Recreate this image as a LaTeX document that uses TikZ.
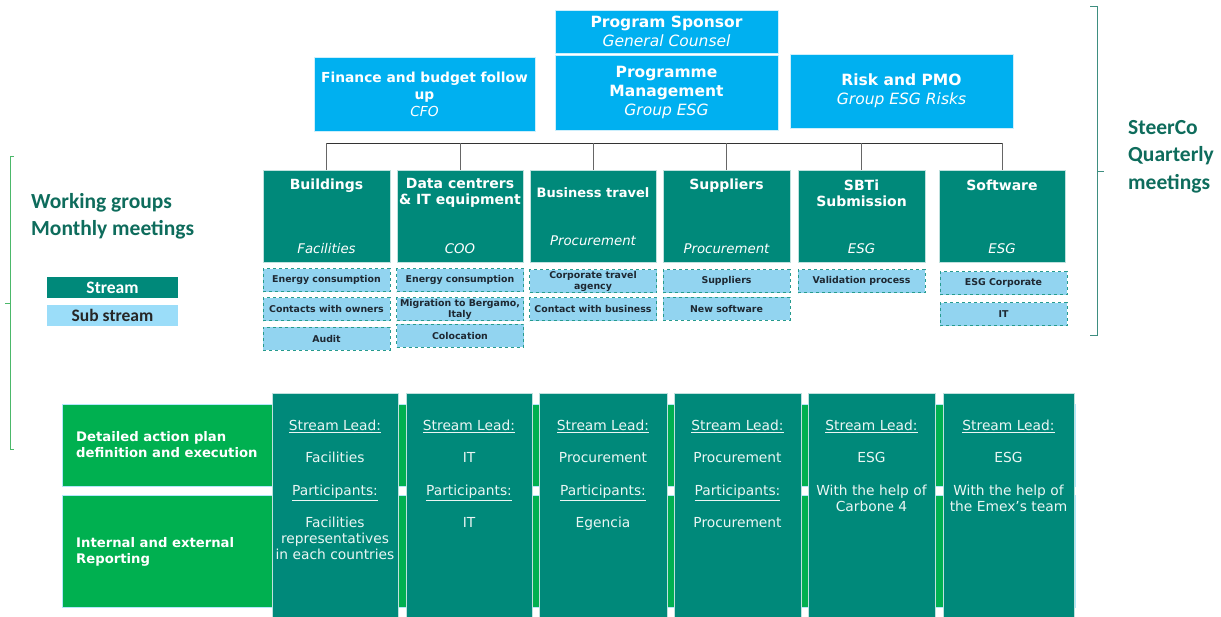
\documentclass[tikz,border=0pt]{standalone}
\usepackage{fontspec}
\setmainfont{DejaVu Sans}
\newfontfamily\calib{Carlito}

\definecolor{skyblue}{RGB}{0,176,240}
\definecolor{streamteal}{RGB}{0,137,122}
\definecolor{subblue}{RGB}{146,212,240}
\definecolor{legendblue}{RGB}{155,221,249}
\definecolor{rowgreen}{RGB}{0,176,80}
\definecolor{labelteal}{RGB}{14,108,92}
\definecolor{bracegreen}{RGB}{76,184,106}
\definecolor{braceteal}{RGB}{62,142,128}
\definecolor{subtext}{RGB}{30,40,50}

\tikzset{
	topbox/.style = {fill=skyblue, draw=white!80!skyblue, line width=0.6pt, text=white, align=center, font=\bfseries\fontsize{15.5}{19}\selectfont, inner sep=0pt},
	streambox/.style = {fill=streamteal, draw=white!75!streamteal, line width=0.6pt, minimum height=92pt, inner sep=0pt},
	streamtitle/.style = {text=white, align=center, font=\bfseries\fontsize{14}{16}\selectfont, inner sep=0pt},
	streamrole/.style = {text=white, font=\itshape\fontsize{13.3}{16}\selectfont, inner sep=0pt},
	subbox/.style = {fill=subblue, draw=streamteal!85, dashed, line width=0.8pt, minimum width=127pt, minimum height=23pt, align=center, text=subtext, font=\bfseries\fontsize{9.4}{11}\selectfont, inner sep=0pt},
	legendbox/.style = {minimum width=131pt, minimum height=21pt, inner sep=0pt, font=\calib\bfseries\fontsize{17.5}{19}\selectfont},
	grouplabel/.style = {anchor=west, align=left, text=labelteal, font=\calib\bfseries\fontsize{21.5}{27.5}\selectfont, inner sep=0pt},
	rowbox/.style = {fill=rowgreen, draw=white!70!skyblue, line width=0.5pt, minimum width=1013pt, inner sep=0pt},
	rowlabel/.style = {anchor=west, align=left, text=white, font=\bfseries\fontsize{13.2}{16}\selectfont, inner sep=0pt},
	colbox/.style = {fill=streamteal, draw=white!75!streamteal, line width=0.6pt, minimum height=230pt, inner sep=0pt},
	coltext/.style = {anchor=north, align=center, text=white!92!streamteal, font=\fontsize{13.8}{16}\selectfont, inner sep=0pt}
}

\begin{document}
\begin{tikzpicture}[x=1pt, y=-1pt]

	\useasboundingbox (0,0) rectangle (1221,616);

	% steering committee
	\node [topbox, minimum width=223pt, minimum height=43pt] (sponsor) at (666.5,31.5) {Program Sponsor\\\mdseries\itshape General Counsel};
	\node [topbox, minimum width=223pt, minimum height=75pt, text depth=3pt] (progman) at (666.5,92.5) {Programme\\Management\\\mdseries\itshape Group ESG};
	\node [topbox, minimum width=221pt, minimum height=74pt, font=\bfseries\fontsize{13.8}{17}\selectfont] (finance) at (424.5,94) {Finance and budget follow\\up\\\mdseries\itshape CFO};
	\node [topbox, minimum width=223pt, minimum height=74pt, text depth=3pt] (risk) at (901.5,91) {Risk and PMO\\\mdseries\itshape Group ESG Risks};

	% streams
	\foreach \cx/\bw/\ty/\ry/\ttl/\role [count=\i] in {
			326.5/127/186/249/{Buildings}/{Facilities},
			460/126/193/249/{Data centrers\\\& IT equipment}/{COO},
			593/126/193/241/{\fontsize{13}{16}\selectfont Business travel}/{Procurement},
			726.5/127/186/249/{Suppliers}/{Procurement},
			861.5/127/193/249/{SBTi\\Submission}/{ESG},
			1002/126/185/249/{Software}/{ESG}} {
		\node [streambox, minimum width=\bw pt] (s\i) at (\cx,216) {};
		\node [streamtitle] (s\i-t) at (\cx,\ty) {\ttl};
		\node [streamrole] (s\i-r) at (\cx,\ry) {\role};
	}

	\coordinate (bus) at (666.5,143);
	\draw [line width=1pt, black!80] (bus -| s1.north) -- (bus -| s6.north);
	\foreach \s in {s1,s2,s3,s4,s5,s6}
		\draw [line width=1pt, black!60] (bus -| \s.north) -- (\s.north);

	% sub streams
	\foreach \cx/\cy/\txt [count=\i] in {
			326.5/280/{Energy consumption},
			326.5/309/{Contacts with owners},
			326.5/338.5/{Audit},
			460/280/{Energy consumption},
			460/309/{Migration to Bergamo,\\Italy},
			460/335.5/{Colocation},
			593/281/{Corporate travel\\agency},
			593/309/{Contact with business},
			726.5/281/{Suppliers},
			726.5/308.5/{New software},
			861.5/281/{Validation process},
			1003.5/283/{ESG Corporate},
			1003.5/314/{IT}}
		\node [subbox] (sub\i) at (\cx,\cy) {\txt};

	% legend and labels
	\node [grouplabel] (wg) at (31,216.5) {Working groups\\Monthly meetings};
	\node [legendbox, fill=streamteal, text=white] (legstream) at (112.5,287.5) {Stream};
	\node [legendbox, fill=legendblue, text=black!85] (legsub) at (112.5,315.5) {Sub stream};
	\node [grouplabel] (steerco) at (1128,156.5) {SteerCo\\Quarterly\\meetings};

	% brackets
	\draw [bracegreen, line width=1pt] (14,156) -- (10,156) -- (10,449) -- (14,449);
	\draw [bracegreen, line width=1pt] (10,303) -- (5,303);
	\draw [braceteal, line width=1pt] (1090,6) -- (1097,6) -- (1097,335) -- (1090,335);
	\draw [braceteal, line width=1pt] (1097,171) -- (1104,171);

	% action plan rows
	\node [rowbox, minimum height=82pt] (row1) at (568.5,445) {};
	\node [rowbox, minimum height=112pt] (row2) at (568.5,551) {};
	\node [rowlabel] (row1-l) at (76,445) {Detailed action plan\\definition and execution};
	\node [rowlabel] (row2-l) at (76,551.5) {Internal and external\\Reporting};

	% stream lead columns
	\foreach \cx/\bw/\lead/\prt [count=\i] in {
			335/126/{Facilities}/{\underline{Participants:}\\[16pt]Facilities\\representatives\\in each countries},
			469/126/{IT}/{\underline{Participants:}\\[16pt]IT},
			603/128/{Procurement}/{\underline{Participants:}\\[16pt]Egencia},
			737.5/127/{Procurement}/{\underline{Participants:}\\[16pt]Procurement},
			871.5/127/{ESG}/{With the help of\\Carbone 4},
			1008.5/131/{ESG}/{With the help of\\the Emex’s team}} {
		\node [colbox, minimum width=\bw pt] (c\i) at (\cx,508) {};
		\node [coltext] (c\i-lead) at (\cx,420) {\underline{Stream Lead:}\\[16pt]\lead};
		\node [coltext] (c\i-part) at (\cx,485) {\prt};
	}

\end{tikzpicture}
\end{document}
